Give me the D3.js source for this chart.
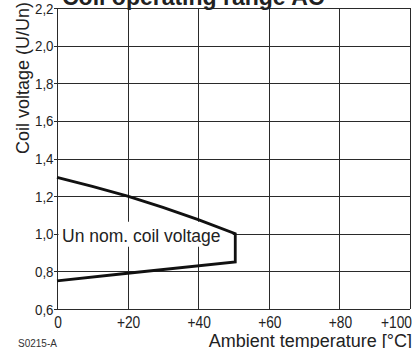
<!DOCTYPE html>
<html>
<head>
<meta charset="utf-8">
<script src="https://cdn.jsdelivr.net/npm/d3@7"></script>
<style>
  html, body { margin: 0; padding: 0; background: #fff; }
  svg { display: block; font-family: "Liberation Sans", Arial, sans-serif; }
</style>
</head>
<body>
<svg id="chart" width="414" height="348"></svg>
<script>
// ---- data ----
const title = "Coil operating range AC";
const xTicks = [0, 20, 40, 60, 80, 100];
const xTickLabels = ["0", "+20", "+40", "+60", "+80", "+100"];
const yTicks = [0.6, 0.8, 1.0, 1.2, 1.4, 1.6, 1.8, 2.0, 2.2];
const yTickLabels = ["0,6", "0,8", "1,0", "1,2", "1,4", "1,6", "1,8", "2,0", "2,2"];
const upperTemp = [0, 10, 20, 30, 40, 50.5];
const upperVolt = [1.30, 1.252, 1.20, 1.14, 1.075, 1.00];
const lowerTemp = [50.5, 20, 0];
const lowerVolt = [0.85, 0.79, 0.75];
const nominalLabel = "Un nom. coil voltage";
const nominalValue = 1.0;
const xTitle = "Ambient temperature [°C]";
const yTitle = "Coil voltage (U/Un)";
const codeLabel = "S0215-A";

// ---- chart ----
const svg = d3.select("#chart");
const x = d3.scaleLinear().domain([0, 100]).range([57, 410]);
const y = d3.scaleLinear().domain([0.6, 2.2]).range([309, 8]);
const ink = "#222";

// grid
const grid = svg.append("g").attr("stroke", "#2a2a2a").attr("stroke-width", 1).attr("shape-rendering", "crispEdges");
grid.selectAll("line.v").data(xTicks).join("line")
  .attr("x1", d => Math.round(x(d)) + 0.5).attr("x2", d => Math.round(x(d)) + 0.5)
  .attr("y1", y(2.2)).attr("y2", y(0.6));
grid.selectAll("line.h").data(yTicks).join("line")
  .attr("y1", d => Math.round(y(d)) + 0.5).attr("y2", d => Math.round(y(d)) + 0.5)
  .attr("x1", x(0)).attr("x2", x(100));

// y tick marks
grid.selectAll("line.t").data(yTicks).join("line")
  .attr("y1", d => Math.round(y(d)) + 0.5).attr("y2", d => Math.round(y(d)) + 0.5)
  .attr("x1", x(0) - 3).attr("x2", x(0));

// white box behind nominal label
svg.append("rect")
  .attr("x", x(0) + 1.5).attr("y", y(nominalValue) - 12)
  .attr("width", x(50.5) - x(0) - 4).attr("height", 25)
  .attr("fill", "#fff");

svg.append("text")
  .attr("x", x(0) + 5).attr("y", y(nominalValue) + 8)
  .attr("font-size", 17.5).attr("fill", ink)
  .text(nominalLabel);

// boundary curve
const pts = upperTemp.map((t, i) => [t, upperVolt[i]])
  .concat(lowerTemp.map((t, i) => [t, lowerVolt[i]]));
const line = d3.line().x(d => x(d[0])).y(d => y(d[1]));
svg.append("path").attr("d", line(pts))
  .attr("fill", "none").attr("stroke", "#111").attr("stroke-width", 2.8)
  .attr("stroke-linejoin", "miter");

// y tick labels (slightly condensed)
svg.append("g").selectAll("text").data(yTicks).join("text")
  .attr("transform", d => `translate(53.5,${y(d)}) scale(0.86,1)`)
  .attr("dy", "0.36em")
  .attr("text-anchor", "end").attr("font-size", 15.5).attr("fill", ink)
  .text((d, i) => yTickLabels[i]);

// x tick labels (slightly condensed)
svg.append("g").selectAll("text").data(xTicks).join("text")
  .attr("transform", (d, i) => `translate(${i === xTicks.length - 1 ? 412 : x(d) + 1},328) scale(0.86,1)`)
  .attr("text-anchor", (d, i) => i === xTicks.length - 1 ? "end" : "middle")
  .attr("font-size", 16).attr("fill", ink)
  .text((d, i) => xTickLabels[i]);

// axis titles
svg.append("text")
  .attr("x", 412).attr("y", 347).attr("text-anchor", "end")
  .attr("font-size", 18).attr("fill", ink).text(xTitle);
svg.append("text")
  .attr("transform", "translate(29,78) rotate(-90)")
  .attr("text-anchor", "middle").attr("font-size", 18).attr("fill", ink)
  .text(yTitle);

// title (clipped at top, as in the reference)
svg.append("text")
  .attr("x", 62).attr("y", 4.5).attr("font-size", 23).attr("font-weight", "bold")
  .attr("fill", ink).text(title);

// code label
svg.append("text")
  .attr("x", 18).attr("y", 346.5).attr("font-size", 10).attr("fill", "#333")
  .text(codeLabel);
</script>
</body>
</html>
